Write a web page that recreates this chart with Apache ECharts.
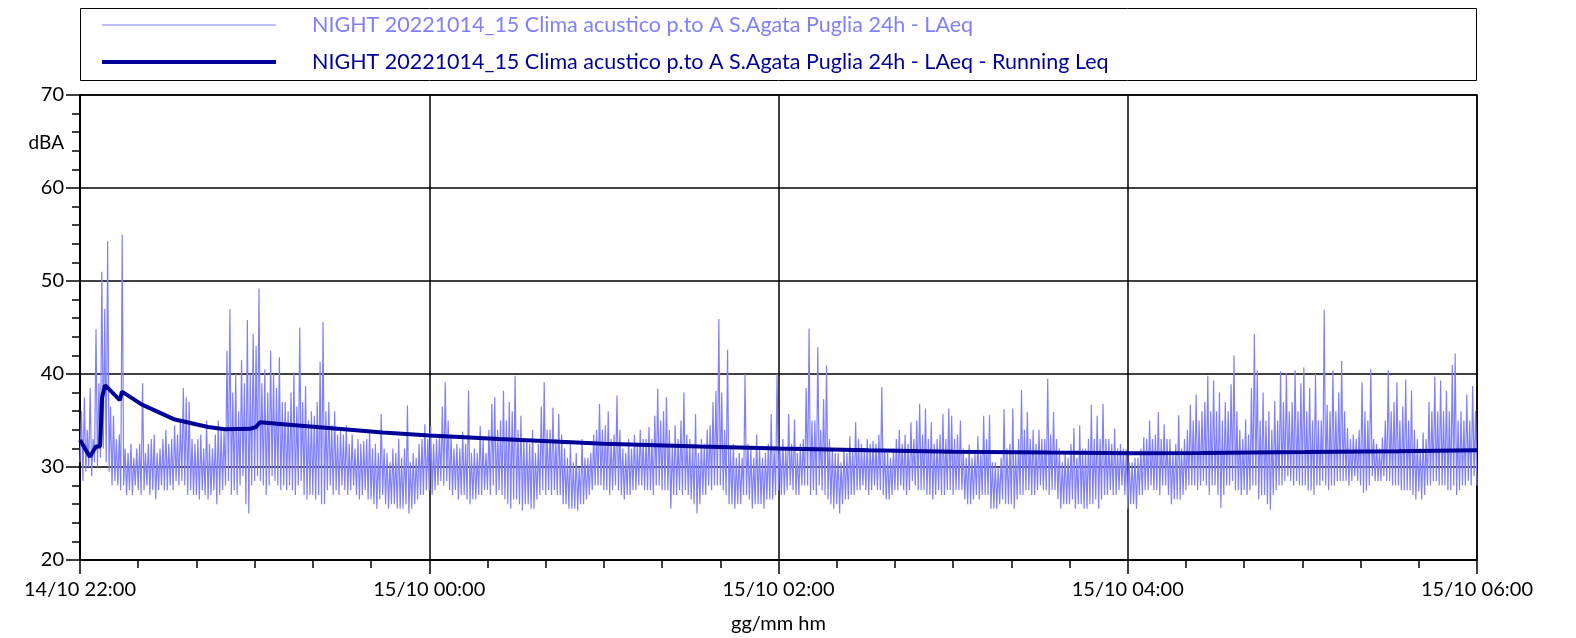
<!DOCTYPE html>
<html><head><meta charset="utf-8">
<script src="https://cdn.jsdelivr.net/npm/echarts@6/dist/echarts.min.js"></script>
<style>html,body{margin:0;padding:0;background:#fff}#c{width:1576px;height:638px}</style>
</head><body><div id="c"></div>
<script>
const seriesNames = [
  'NIGHT 20221014_15 Clima acustico p.to A S.Agata Puglia 24h - LAeq',
  'NIGHT 20221014_15 Clima acustico p.to A S.Agata Puglia 24h - LAeq - Running Leq'
];
const xTickLabels = ['14/10 22:00','15/10 00:00','15/10 02:00','15/10 04:00','15/10 06:00'];
const yTicks = [20,30,40,50,60,70];

// LAeq, minutes since 14/10 22:00: low reading at each minute, high reading half a minute later
const laeqLow = [
30.5,28.5,29.5,30.0,29.0,30.5,30.0,31.0,32.0,30.5,
29.5,28.0,28.5,28.0,27.5,28.0,27.0,27.5,27.0,28.0,
27.5,27.0,27.5,28.0,27.0,27.5,26.5,27.5,28.0,27.5,
27.5,28.0,27.5,28.5,28.0,28.5,28.0,27.0,27.5,27.0,
27.0,26.5,27.5,27.0,26.5,27.0,27.5,26.0,27.0,27.5,
28.0,28.5,27.0,27.5,27.0,28.0,29.0,26.0,25.0,28.0,
28.5,29.0,28.5,28.0,27.0,28.0,29.0,28.5,28.0,27.5,
28.0,27.5,28.0,27.5,27.0,28.0,28.5,27.0,26.5,27.0,
27.0,26.5,27.0,26.0,26.0,27.5,28.0,27.0,27.5,27.0,
28.0,27.5,27.0,27.5,28.0,27.0,26.5,27.0,27.5,26.5,
26.5,26.0,25.5,26.5,27.0,26.0,25.5,26.0,26.0,25.5,
25.5,25.5,26.0,25.0,25.5,26.0,26.5,27.0,27.0,27.5,
27.5,27.0,27.5,28.0,28.5,28.0,28.5,27.5,27.0,27.5,
26.5,27.0,27.0,26.5,26.0,26.5,26.5,27.0,27.0,27.5,
27.5,27.0,28.0,27.0,27.5,27.0,26.5,26.0,25.5,26.5,
26.5,26.0,25.3,26.0,26.0,25.5,25.5,26.5,27.0,27.5,
27.0,27.5,27.0,27.5,27.0,27.0,26.0,26.0,25.5,25.5,
25.5,25.3,26.0,26.0,26.5,27.0,27.5,28.0,28.0,28.0,
27.5,27.5,27.0,27.5,28.0,27.5,27.0,26.5,27.0,27.0,
27.5,27.5,28.0,28.0,27.5,27.5,27.5,27.0,28.0,28.0,
27.5,27.5,27.5,25.5,27.0,27.0,27.5,27.0,27.5,27.0,
26.5,26.0,25.0,26.0,27.0,27.0,28.0,27.5,28.0,28.0,
28.0,27.5,27.0,26.0,26.0,25.5,26.0,26.0,27.0,27.0,
26.5,25.5,26.0,26.0,26.0,25.5,26.5,26.5,26.5,27.0,
27.5,27.0,27.0,27.5,28.0,27.5,27.0,27.0,28.0,28.0,
28.0,27.0,27.5,27.0,28.0,27.5,27.0,26.5,26.0,25.5,
26.0,25.0,26.0,26.5,26.5,27.0,27.0,27.5,27.5,28.0,
27.5,27.0,27.5,28.0,27.5,27.5,27.0,26.5,26.5,27.0,
27.5,27.5,28.0,27.5,27.0,27.5,28.5,28.0,27.5,27.5,
27.5,27.0,27.0,26.5,27.0,27.5,27.0,27.0,27.5,27.5,
27.0,27.5,27.5,27.5,26.5,26.0,26.0,26.5,27.0,26.5,
27.0,27.0,27.0,25.5,25.5,25.5,26.0,26.5,26.0,26.0,
26.0,25.5,26.5,27.0,27.0,27.5,27.5,27.0,27.0,27.5,
28.0,27.5,27.5,27.0,27.5,27.5,26.5,25.5,26.0,26.0,
26.0,26.5,25.5,26.0,26.0,25.5,25.5,26.0,26.0,26.5,
25.5,26.5,27.0,27.0,27.5,27.0,27.0,27.5,28.0,27.0,
25.5,26.0,26.0,25.5,27.0,27.0,27.5,27.5,28.0,27.5,
27.5,27.0,28.0,28.0,27.0,26.0,26.5,26.5,26.5,27.0,
27.5,28.0,28.0,28.0,27.5,28.0,28.5,28.0,27.0,28.0,
28.0,27.0,25.6,27.0,28.0,28.0,28.5,27.5,27.5,27.0,
27.5,27.0,27.5,28.0,28.0,26.5,27.0,27.0,26.0,25.4,
27.0,27.5,28.0,28.0,28.5,29.0,28.5,28.0,28.5,28.0,
28.0,28.0,27.5,27.5,27.0,28.0,28.0,28.5,28.0,27.5,
28.0,28.0,28.5,28.5,28.5,28.5,28.0,28.5,29.0,28.5,
28.0,27.2,27.5,28.0,29.0,28.5,28.5,28.5,29.0,28.5,
28.5,28.0,28.0,28.0,27.5,27.5,27.5,27.5,27.0,26.5,
27.4,26.5,27.0,28.0,28.0,28.5,28.5,28.0,28.0,28.0,
27.5,27.5,28.0,27.0,27.5,28.0,28.0,28.5,28.0,29.0,28.0
];
const laeqHigh = [
36.0,37.5,34.0,38.5,33.0,44.8,39.0,51.0,47.0,54.3,
36.5,35.5,33.0,33.5,55.0,32.0,31.5,32.5,31.0,32.0,
32.5,39.0,31.5,32.5,33.0,33.5,31.5,32.0,33.0,34.0,
32.5,33.0,34.5,33.5,35.0,38.5,37.5,37.0,33.0,32.5,
33.0,33.5,32.0,35.0,32.5,32.0,33.5,35.0,34.0,34.0,
42.5,47.0,38.0,40.0,36.0,41.5,39.0,45.8,40.0,44.3,
43.0,49.2,39.0,40.5,38.0,42.5,40.0,38.5,41.8,37.0,
37.0,36.0,38.0,40.2,36.5,45.0,37.0,38.7,35.0,36.0,
35.5,37.0,41.3,45.6,36.0,37.0,34.5,36.0,33.5,34.0,
33.5,34.5,32.5,33.5,32.0,33.0,32.5,32.8,33.0,34.0,
32.0,32.5,31.5,35.7,32.0,31.5,30.5,32.0,31.5,33.0,
31.0,32.0,36.6,30.5,31.5,31.0,32.5,33.0,34.6,33.0,
34.4,32.5,33.0,33.5,36.5,39.1,35.0,33.5,32.0,32.5,
32.0,33.8,32.5,38.2,31.5,32.0,31.5,34.4,33.0,31.5,
34.0,36.8,37.5,34.0,35.0,38.2,35.0,37.0,36.0,39.8,
34.0,35.5,33.0,33.0,32.5,34.0,31.5,32.5,36.5,39.1,
34.0,34.0,36.4,33.0,35.7,33.5,32.0,31.0,32.5,30.5,
31.5,30.0,33.0,31.0,31.0,31.5,33.5,34.0,36.8,34.0,
34.5,36.0,33.0,33.5,37.7,34.0,32.0,31.5,33.0,32.0,
33.5,32.5,34.0,33.0,33.0,34.3,33.0,35.5,38.4,35.0,
36.0,37.5,34.0,32.5,34.5,33.0,35.0,38.0,33.5,33.0,
32.5,35.7,31.5,33.0,32.5,34.0,34.5,37.0,38.2,45.9,
38.0,34.0,42.6,32.0,32.5,31.0,31.5,31.0,40.0,32.5,
32.0,31.0,33.5,32.0,31.0,31.5,32.5,35.7,32.0,40.0,
32.0,33.0,32.0,35.7,32.5,35.1,31.5,32.5,33.0,38.5,
44.9,35.0,35.0,42.9,34.0,37.3,40.9,33.0,32.0,31.5,
31.5,30.5,32.0,31.5,33.3,32.0,34.8,33.0,32.5,32.0,
33.0,32.5,32.8,32.5,33.5,38.6,32.0,31.5,31.0,32.0,
33.0,34.0,32.5,33.5,32.5,34.8,33.0,35.0,36.8,33.5,
36.3,33.0,34.8,32.5,33.0,33.5,35.7,33.0,36.3,35.5,
33.0,33.5,35.0,32.0,31.0,32.4,31.0,31.5,33.3,31.5,
35.5,33.0,35.6,30.5,30.5,30.0,31.0,36.2,32.0,32.5,
36.3,31.5,33.0,38.3,34.0,35.9,33.0,34.0,32.5,34.0,
33.0,33.0,39.5,33.5,35.9,33.0,32.0,30.5,31.5,31.0,
32.5,34.2,31.0,34.5,32.0,32.0,33.0,36.7,33.0,35.5,
33.0,36.8,33.0,33.0,32.5,34.1,32.0,32.5,32.0,31.9,
30.5,30.5,31.0,31.0,32.0,33.2,33.0,35.0,33.0,33.5,
35.9,33.0,34.6,33.0,33.0,31.5,32.5,35.6,32.0,33.0,
34.0,36.7,35.0,37.8,35.0,36.0,37.0,39.8,36.0,39.3,
36.0,38.0,35.0,37.0,36.0,38.9,42.0,36.0,34.0,33.0,
35.1,33.5,38.5,44.3,40.4,35.0,38.0,35.0,36.0,34.0,
37.1,35.0,40.3,37.0,40.1,36.0,37.0,40.4,36.0,39.0,
40.7,36.0,38.5,35.0,40.0,35.0,35.0,46.9,36.7,36.0,
40.4,36.0,38.0,41.4,36.0,34.2,33.0,33.5,33.0,34.0,
39.1,36.0,35.0,40.5,33.0,32.5,32.0,33.2,35.0,40.4,
36.0,37.0,39.1,35.0,36.5,39.4,35.0,38.2,34.0,33.0,
32.0,33.7,33.0,37.0,36.0,39.7,36.0,39.3,36.0,38.2,
36.0,41.0,42.2,35.0,36.0,35.0,37.8,35.0,38.7,36.0
];

// Running Leq: minutes since 22:00 and dBA
const runMin = [0,1.7,3.4,5.5,6.9,7.6,8.6,13.7,14.4,21.3,32.6,44,49.8,58.4,60.5,61.8,69.7,92.8,104,120,144,180,213,240,271,300,333,361,385,421,453,480];
const runVal = [32.9,32.0,31.1,32.2,32.2,37.5,38.8,37.2,38.1,36.7,35.1,34.3,34.05,34.1,34.3,34.8,34.6,34.0,33.7,33.4,33.0,32.5,32.2,32.0,31.8,31.65,31.55,31.47,31.5,31.6,31.7,31.8];

const laeqData = [];
for (let m = 0; m < laeqLow.length; m++) {
  laeqData.push([m, laeqLow[m]]);
  if (m < laeqHigh.length) laeqData.push([m + 0.5, laeqHigh[m]]);
}

const FONT = 'Lato';
const chart = echarts.init(document.getElementById('c'), null, {renderer:'canvas'});
chart.setOption({
  animation:false,
  backgroundColor:'#fff',
  textStyle:{fontFamily:FONT},
  graphic:[{type:'rect',shape:{x:80.5,y:8.5,width:1396,height:72},style:{fill:'none',stroke:'#000',lineWidth:1},z:0}],
  legend:{
    orient:'vertical', left:95, top:9,
    itemWidth:174, itemHeight:20, itemGap:15,
    data:[
      {name:seriesNames[0], textStyle:{color:'#8080ff'},
       itemStyle:{color:'transparent',borderColor:'transparent',borderWidth:0,opacity:0},
       lineStyle:{color:'#8080ff',width:1}},
      {name:seriesNames[1], textStyle:{color:'#000099'},
       itemStyle:{color:'transparent',borderColor:'transparent',borderWidth:0,opacity:0},
       lineStyle:{color:'#000099',width:4}}
    ],
    textStyle:{fontFamily:FONT,fontSize:21.5,padding:[0,0,0,31]}
  },
  grid:{left:80,right:99,top:95,bottom:78,outerBoundsMode:'none',containLabel:false,show:true,borderColor:'#000',borderWidth:1.5},
  xAxis:{
    type:'value',min:0,max:480,interval:120,
    name:'gg/mm hm',nameLocation:'middle',nameGap:54,
    nameTextStyle:{color:'#000',fontSize:20,fontFamily:FONT},
    axisLine:{show:true,onZero:false,lineStyle:{color:'#000',width:2}},
    axisTick:{show:true,length:14,lineStyle:{color:'#000',width:1.5}},
    minorTick:{show:true,splitNumber:6,length:8,lineStyle:{color:'#000',width:1.5}},
    splitLine:{show:true,lineStyle:{color:'#000',width:1.5}},
    axisLabel:{color:'#000',fontSize:20,fontFamily:FONT,margin:20,showMinLabel:true,showMaxLabel:true,
      formatter:v=>xTickLabels[Math.round(v/120)]}
  },
  yAxis:{
    type:'value',min:yTicks[0],max:yTicks[yTicks.length-1],interval:10,
    name:'dBA',nameLocation:'end',nameGap:-48,
    nameTextStyle:{color:'#000',fontSize:19,fontFamily:FONT,align:'right',verticalAlign:'middle',padding:[0,16,0,0]},
    axisLine:{show:true,lineStyle:{color:'#000',width:2}},
    axisTick:{show:true,length:14,lineStyle:{color:'#000',width:1.5}},
    minorTick:{show:true,splitNumber:5,length:8,lineStyle:{color:'#000',width:1.5}},
    splitLine:{show:true,lineStyle:{color:'#000',width:1.5}},
    axisLabel:{color:'#000',fontSize:20,fontFamily:FONT,margin:16}
  },
  series:[
    {name:seriesNames[0],type:'line',symbol:'none',showSymbol:false,
     lineStyle:{color:'#8080ff',width:1.2},itemStyle:{color:'#8080ff'},
     data:laeqData,z:2},
    {name:seriesNames[1],type:'line',symbol:'none',showSymbol:false,
     lineStyle:{color:'#000099',width:4},itemStyle:{color:'#000099'},
     data:runMin.map((m,i)=>[m,runVal[i]]),z:3}
  ]
});
</script></body></html>
